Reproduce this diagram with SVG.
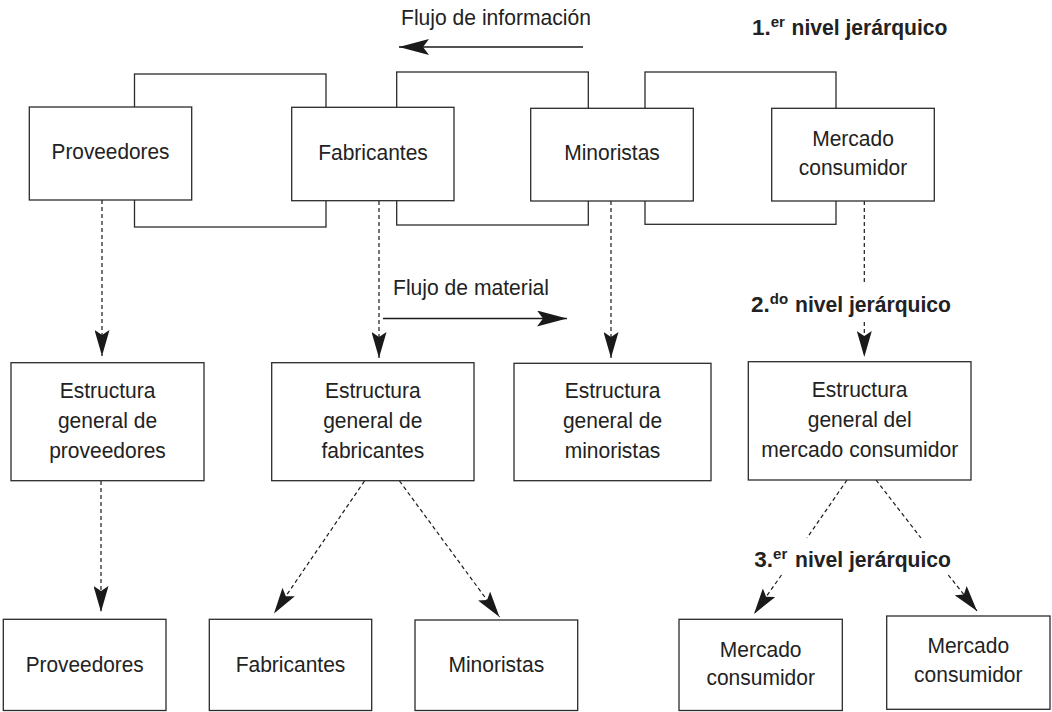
<svg xmlns="http://www.w3.org/2000/svg" width="1052" height="712" viewBox="0 0 1052 712">
<style>
.box{fill:#fff;stroke:#2b2b2b;stroke-width:1.3}
.frame{fill:none;stroke:#2b2b2b;stroke-width:1.3}
.t{font-family:"Liberation Sans",Arial,sans-serif;font-size:22.5px;fill:#222;text-anchor:middle}
.lbl{font-family:"Liberation Sans",Arial,sans-serif;font-size:22.5px;fill:#222}
.b{font-family:"Liberation Sans",Arial,sans-serif;font-size:22.5px;font-weight:bold;fill:#222}
.sup{font-size:15px}
.solid{stroke:#1a1a1a;stroke-width:1.4;fill:none}
.dash{stroke:#1a1a1a;stroke-width:1.2;stroke-dasharray:4 3;fill:none}
</style>
<defs>
<marker id="ah" viewBox="0 0 30 16" markerWidth="30" markerHeight="16" refX="30" refY="8" orient="auto" markerUnits="userSpaceOnUse"><path d="M0,0 L30,8 L0,16 L6,8 z" fill="#1a1a1a"/></marker>
<marker id="ahd" viewBox="0 0 26 15" markerWidth="26" markerHeight="15" refX="26" refY="7.5" orient="auto" markerUnits="userSpaceOnUse"><path d="M0,0 L26,7.5 L0,15 L5,7.5 z" fill="#1a1a1a"/></marker>
</defs>
<rect width="1052" height="712" fill="#fff"/>

<g id="frames">
<rect class="frame" x="134.5" y="74" width="191.5" height="153"/>
<rect class="frame" x="396.7" y="72" width="191.6" height="153"/>
<rect class="frame" x="645" y="72" width="191" height="152.3"/>
</g>

<g id="connectors">
<line class="solid" x1="583" y1="47" x2="399" y2="47" marker-end="url(#ah)"/>
<line class="solid" x1="383" y1="318.5" x2="567" y2="318.5" marker-end="url(#ah)"/>
<line class="dash" x1="102" y1="200" x2="102" y2="356" marker-end="url(#ahd)"/>
<line class="dash" x1="379" y1="201" x2="379" y2="358" marker-end="url(#ahd)"/>
<line class="dash" x1="611" y1="201" x2="611" y2="358" marker-end="url(#ahd)"/>
<line class="dash" x1="864.3" y1="201" x2="864.3" y2="283"/>
<line class="dash" x1="864.3" y1="322" x2="864.3" y2="357" marker-end="url(#ahd)"/>
<line class="dash" x1="101" y1="481" x2="101" y2="612" marker-end="url(#ahd)"/>
<line class="dash" x1="364.5" y1="481" x2="274" y2="613.5" marker-end="url(#ahd)"/>
<line class="dash" x1="399.5" y1="481" x2="499.5" y2="617" marker-end="url(#ahd)"/>
<line class="dash" x1="847" y1="480" x2="807" y2="538"/>
<line class="dash" x1="781.5" y1="575" x2="754" y2="614" marker-end="url(#ahd)"/>
<line class="dash" x1="876" y1="480" x2="921" y2="538"/>
<line class="dash" x1="948.3" y1="575" x2="977" y2="611" marker-end="url(#ahd)"/>
</g>

<g id="labels">
<text class="lbl" x="401" y="25" textLength="190" lengthAdjust="spacingAndGlyphs">Flujo de información</text>
<text class="lbl" x="393" y="294.5" textLength="156" lengthAdjust="spacingAndGlyphs">Flujo de material</text>
<text class="b" x="752" y="35">1.<tspan class="sup" dy="-8">er</tspan><tspan x="791.5" dy="8" textLength="156" lengthAdjust="spacingAndGlyphs">nivel jerárquico</tspan></text>
<text class="b" x="751" y="311.7">2.<tspan class="sup" dy="-8">do</tspan><tspan x="795" dy="8" textLength="156" lengthAdjust="spacingAndGlyphs">nivel jerárquico</tspan></text>
<text class="b" x="754.3" y="567.3">3.<tspan class="sup" dy="-8">er</tspan><tspan x="795" dy="8" textLength="156" lengthAdjust="spacingAndGlyphs">nivel jerárquico</tspan></text>
</g>

<g id="n-proveedores"><rect class="box" x="29.3" y="107" width="162.4" height="93"/><text class="t" x="110.5" y="159.3" textLength="118" lengthAdjust="spacingAndGlyphs">Proveedores</text></g>
<g id="n-fabricantes"><rect class="box" x="291.7" y="107.3" width="162.3" height="93.4"/><text class="t" x="373" y="159.5" textLength="109.7" lengthAdjust="spacingAndGlyphs">Fabricantes</text></g>
<g id="n-minoristas"><rect class="box" x="530.7" y="108.3" width="162.6" height="92.7"/><text class="t" x="612" y="160" textLength="95.7" lengthAdjust="spacingAndGlyphs">Minoristas</text></g>
<g id="n-mercado"><rect class="box" x="771.7" y="108.3" width="162.6" height="92.7"/><text class="t" x="853" y="146" textLength="81.7" lengthAdjust="spacingAndGlyphs">Mercado</text><text class="t" x="853" y="175" textLength="108.5" lengthAdjust="spacingAndGlyphs">consumidor</text></g>

<g id="n-est-proveedores"><rect class="box" x="11" y="362.7" width="193" height="118"/><text class="t" x="107.5" y="398" textLength="95.7" lengthAdjust="spacingAndGlyphs">Estructura</text><text class="t" x="107.5" y="428" textLength="99.2" lengthAdjust="spacingAndGlyphs">general de</text><text class="t" x="107.5" y="458.3" textLength="116.7" lengthAdjust="spacingAndGlyphs">proveedores</text></g>
<g id="n-est-fabricantes"><rect class="box" x="271.7" y="362.7" width="202.3" height="118"/><text class="t" x="372.8" y="398" textLength="95.7" lengthAdjust="spacingAndGlyphs">Estructura</text><text class="t" x="372.8" y="428" textLength="99.2" lengthAdjust="spacingAndGlyphs">general de</text><text class="t" x="372.8" y="458.3" textLength="102.7" lengthAdjust="spacingAndGlyphs">fabricantes</text></g>
<g id="n-est-minoristas"><rect class="box" x="514" y="363.3" width="197" height="117.4"/><text class="t" x="612.5" y="398" textLength="95.7" lengthAdjust="spacingAndGlyphs">Estructura</text><text class="t" x="612.5" y="428" textLength="99.2" lengthAdjust="spacingAndGlyphs">general de</text><text class="t" x="612.5" y="458.3" textLength="95.7" lengthAdjust="spacingAndGlyphs">minoristas</text></g>
<g id="n-est-mercado"><rect class="box" x="748.3" y="361.7" width="222.7" height="118.3"/><text class="t" x="859.7" y="397" textLength="95.7" lengthAdjust="spacingAndGlyphs">Estructura</text><text class="t" x="859.7" y="427" textLength="103.9" lengthAdjust="spacingAndGlyphs">general del</text><text class="t" x="859.7" y="456.5" textLength="197" lengthAdjust="spacingAndGlyphs">mercado consumidor</text></g>

<g id="n-b-proveedores"><rect class="box" x="3.3" y="619.3" width="162.7" height="91.2"/><text class="t" x="84.7" y="671.5" textLength="118" lengthAdjust="spacingAndGlyphs">Proveedores</text></g>
<g id="n-b-fabricantes"><rect class="box" x="209.3" y="619.3" width="162.4" height="91.2"/><text class="t" x="290.5" y="671.5" textLength="109.7" lengthAdjust="spacingAndGlyphs">Fabricantes</text></g>
<g id="n-b-minoristas"><rect class="box" x="415" y="620" width="162.7" height="90.5"/><text class="t" x="496.3" y="671.7" textLength="95.7" lengthAdjust="spacingAndGlyphs">Minoristas</text></g>
<g id="n-b-mercado1"><rect class="box" x="679" y="619.3" width="163.3" height="91.2"/><text class="t" x="760.7" y="656.7" textLength="81.7" lengthAdjust="spacingAndGlyphs">Mercado</text><text class="t" x="760.7" y="685" textLength="108.5" lengthAdjust="spacingAndGlyphs">consumidor</text></g>
<g id="n-b-mercado2"><rect class="box" x="886.7" y="616" width="163.3" height="93.3"/><text class="t" x="968.3" y="653.3" textLength="81.7" lengthAdjust="spacingAndGlyphs">Mercado</text><text class="t" x="968.3" y="682.3" textLength="108.5" lengthAdjust="spacingAndGlyphs">consumidor</text></g>
</svg>
